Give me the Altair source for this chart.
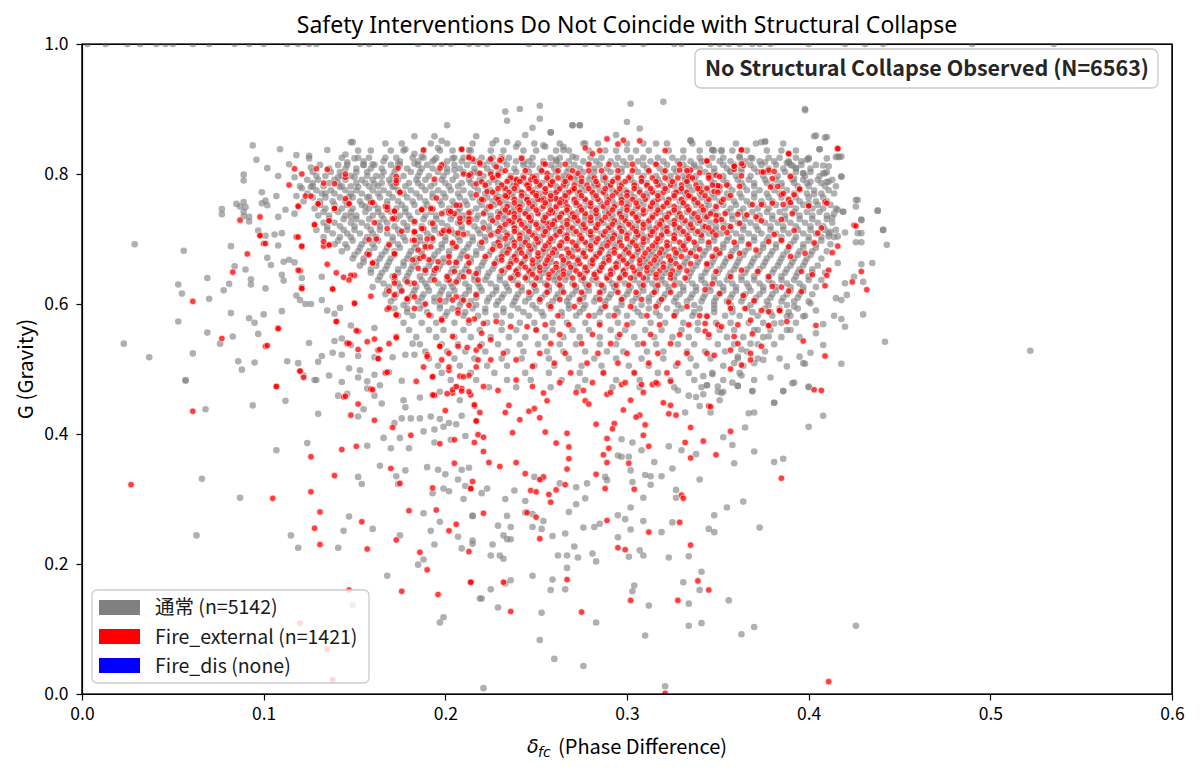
import altair as alt
import pandas as pd

FONT = "Noto Sans CJK JP"
TITLE_FONT = "Noto Sans"
MATH_FONT = "DejaVu Sans"
TITLE = "Safety Interventions Do Not Coincide with Structural Collapse"
NOTE = "No Structural Collapse Observed (N=6563)"
X_TITLE_SYMBOL = "δ"
X_TITLE_SUB = "fc"
X_TITLE_REST = "(Phase Difference)"
Y_TITLE = "G (Gravity)"
LABELS = ["通常 (n=5142)", "Fire_external (n=1421)", "Fire_dis (none)"]
COLORS = ["#808080", "#ff0000", "#0000ff"]
x_ticks = [0.0, 0.1, 0.2, 0.3, 0.4, 0.5, 0.6]
y_ticks = [0.0, 0.2, 0.4, 0.6, 0.8, 1.0]

# ---------------- gray points (通常) ----------------
gray_ceiling = [(.003,1.0),(.013,1.0),(.025,1.0),(.032,1.0),(.041,1.0),(.046,1.0),(.050,1.0),(.061,1.0),(.070,1.0),
    (.084,1.0),(.092,1.0),(.100,1.0),(.113,1.0),(.119,1.0),(.125,1.0),(.129,1.0),(.153,1.0),(.158,1.0),(.167,1.0),
    (.185,1.0),(.194,1.0),(.198,1.0),(.203,1.0),(.213,1.0),(.218,1.0),(.223,1.0),(.246,1.0),(.255,1.0),(.260,1.0),
    (.267,1.0),(.277,1.0),(.284,1.0),(.290,1.0),(.298,1.0),(.309,1.0),(.326,1.0),(.330,1.0),(.346,1.0),(.351,1.0),
    (.356,1.0),(.362,1.0),(.369,1.0),(.373,1.0),(.379,1.0),(.400,1.0),(.420,1.0),(.431,1.0),(.441,1.0),(.490,1.0),(.535,1.0)]

gray_left_mid = [(.029,.692),(.056,.682),(.077,.738),(.053,.630),(.055,.616),(.069,.640),(.070,.608),(.053,.573),
    (.069,.556),(.023,.539),(.037,.518),(.061,.524),(.057,.483),(.076,.539),(.083,.550),(.082,.586),(.086,.512),
    (.088,.499),(.095,.510),(.097,.554),(.100,.584),(.092,.578),(.095,.571),(.078,.621),(.081,.631),(.084,.658),
    (.090,.653),(.093,.638),(.093,.630),(.101,.624),(.082,.689),(.087,.750),(.090,.749),(.089,.735),(.092,.727),
    (.099,.755),(.102,.752),(.097,.713),(.101,.705),(.106,.707),(.110,.709),(.102,.671),(.104,.660),(.108,.690),
    (.111,.665),(.114,.668),(.117,.664),(.110,.645),(.111,.636),(.121,.640),(.121,.626),(.118,.613),(.120,.606),
    (.123,.600),(.126,.600),(.110,.589),(.132,.606),(.132,.642),(.135,.590),(.139,.585),(.142,.594),(.125,.540),
    (.113,.512),(.119,.509),(.122,.490),(.132,.520),(.130,.511),(.129,.483),(.136,.490),(.138,.525),(.143,.522),
    (.139,.543),(.143,.547),(.148,.567),(.148,.537),(.152,.520),(.153,.498),(.147,.501),(.152,.487),(.157,.481),
    (.161,.491),(.161,.563),(.169,.495),(.171,.518),(.161,.518),(.178,.522),(.182,.539),(.176,.482),(.183,.522)]

gray_upper_left = [(.094,.844),(.096,.822),(.089,.799),(.089,.790),(.077,.746),(.085,.754),(.089,.757),(.089,.742),
    (.092,.734),(.099,.772),(.101,.759),(.102,.809),(.108,.797),(.109,.838),(.107,.766),(.108,.734),(.114,.815),
    (.112,.745),(.117,.739),(.118,.829),(.125,.824),(.125,.828),(.126,.810),(.117,.795),(.121,.778),(.126,.780),
    (.118,.766),(.132,.770),(.135,.837),(.145,.830),(.148,.849),(.149,.849),(.146,.818),(.150,.824),(.155,.814),
    (.160,.815),(.142,.780),(.141,.795),(.150,.795),(.152,.780),(.147,.765),(.139,.745),(.148,.734),(.158,.765),
    (.156,.750),(.161,.785),(.165,.796),(.171,.780),(.174,.816),(.178,.838),(.183,.858),(.183,.831),(.194,.858),
    (.198,.851),(.201,.875),(.217,.858),(.228,.852),(.233,.896),(.234,.882),(.241,.900),(.244,.860),(.248,.871),
    (.252,.905),(.252,.885),(.258,.864),(.270,.875),(.274,.875),(.265,.842),(.255,.842),(.234,.849),(.239,.842),
    (.213,.837),(.204,.824),(.187,.827),(.196,.840),(.215,.820),(.225,.823),(.231,.826),(.243,.818),(.261,.822),
    (.270,.827),(.183,.816),(.194,.822),(.205,.806),(.218,.801)]

gray_top_mid = [(.302,.908),(.320,.911),(.398,.900),(.300,.880),(.270,.875),(.274,.875),(.258,.864),(.307,.870),
    (.294,.860),(.335,.852),(.347,.837),(.352,.837),(.376,.850),(.404,.859),(.410,.857),(.316,.847),(.300,.837),
    (.254,.844),(.265,.837),(.276,.847)]

gray_right = [(.398,.898),(.374,.849),(.403,.858),(.409,.856),(.406,.838),(.410,.824),(.399,.822),(.415,.826),
    (.417,.826),(.418,.796),(.411,.812),(.409,.801),(.410,.788),(.347,.837),(.352,.835),(.388,.817),(.393,.809),
    (.397,.801),(.401,.788),(.426,.760),(.426,.750),(.438,.743),(.441,.714),(.443,.691),(.429,.730),(.427,.709),
    (.420,.710),(.426,.695),(.429,.695),(.435,.663),(.429,.661),(.430,.634),(.425,.642),(.420,.632),(.421,.614),
    (.416,.745),(.419,.742),(.413,.733),(.411,.704),(.416,.704),(.416,.663),(.418,.606),(.415,.609),(.414,.582),
    (.418,.577),(.420,.565),(.430,.584),(.442,.542),(.408,.537),(.418,.508),(.401,.525),(.398,.508),(.400,.473),
    (.392,.479),(.386,.466),(.381,.448),(.379,.487),(.370,.483),(.369,.466),(.363,.490),(.358,.479),(.361,.474),
    (.350,.473),(.344,.475),(.342,.489),(.347,.492),(.353,.465),(.351,.452),(.342,.461),(.408,.569),(.404,.555),
    (.395,.549),(.388,.560),(.388,.504),(.384,.516),(.395,.519),(.397,.509),(.375,.514),(.370,.509),(.361,.519),
    (.359,.509),(.363,.530),(.404,.590),(.401,.601),(.397,.581),(.392,.596),(.388,.581),(.381,.570),(.378,.550),
    (.372,.560),(.368,.539),(.335,.851),(.376,.850),(.406,.838),(.416,.827),(.418,.827),(.400,.823),(.408,.813),
    (.408,.801),(.411,.788),(.418,.796),(.427,.760),(.438,.744),(.441,.714),(.429,.729),(.429,.709),(.419,.742),
    (.414,.739),(.412,.711),(.403,.769),(.400,.755),(.391,.813),(.389,.818),(.392,.793),(.397,.801),(.376,.818),
    (.369,.824),(.362,.827),(.357,.804),(.341,.819),(.337,.811),(.333,.791),(.329,.773),(.522,.528)]

gray_low_left = [(.068,.438),(.094,.444),(.112,.451),(.130,.431),(.107,.375),(.124,.386),(.066,.331),(.087,.302),
    (.063,.244),(.115,.244),(.119,.225),(.141,.225),(.147,.273),(.144,.251),(.160,.254),(.152,.334),(.154,.323),
    (.157,.382),(.164,.351),(.173,.335),(.178,.344),(.174,.323),(.175,.244),(.168,.182),(.188,.278),(.192,.251),
    (.194,.230),(.188,.207),(.185,.199),(.199,.118),(.197,.110),(.197,.265),(.207,.242),(.209,.224),(.215,.231),
    (.215,.274),(.219,.147),(.190,.349),(.196,.345),(.200,.338),(.209,.345),(.213,.348),(.207,.330),(.211,.320),
    (.199,.316),(.202,.312),(.210,.300),(.193,.309),(.170,.378),(.180,.378),(.194,.387),(.203,.391),(.166,.394),
    (.175,.394),(.188,.404),(.194,.407),(.199,.411),(.172,.417),(.176,.424),(.181,.424),(.186,.424),(.192,.427),
    (.197,.423),(.202,.417),(.206,.415),(.211,.397),(.209,.428),(.152,.427),(.155,.438),(.161,.459),(.165,.447),
    (.177,.452),(.178,.441),(.186,.456),(.197,.465),(.208,.452),(.141,.459),(.146,.462),(.157,.470),(.164,.475),
    (.057,.482),(.128,.483),(.143,.480),(.149,.137)]

gray_low_mid = [(.221,.009),(.321,.012),(.260,.054),(.276,.043),(.252,.083),(.310,.090),(.283,.110),(.334,.105),
    (.341,.109),(.363,.092),(.370,.103),(.426,.105),(.356,.144),(.334,.139),(.312,.136),(.253,.125),(.229,.133),
    (.220,.147),(.225,.161),(.258,.160),(.266,.161),(.248,.182),(.259,.176),(.236,.175),(.233,.170),(.267,.194),
    (.303,.158),(.304,.167),(.331,.172),(.340,.160),(.341,.188),(.323,.210),(.334,.212),(.301,.211),(.307,.221),
    (.309,.213),(.281,.216),(.283,.204),(.273,.210),(.262,.213),(.267,.213),(.271,.227),(.259,.243),(.266,.247),
    (.253,.254),(.248,.257),(.254,.266),(.236,.257),(.229,.259),(.226,.230),(.225,.213),(.230,.213),(.232,.208),
    (.215,.236),(.215,.274),(.232,.244),(.234,.238),(.236,.238),(.234,.274),(.244,.279),(.268,.280),(.276,.256),
    (.282,.257),(.285,.262),(.295,.275),(.299,.269),(.295,.241),(.302,.287),(.302,.253),(.309,.266),(.319,.249),
    (.325,.264),(.345,.254),(.348,.249),(.348,.275),(.355,.287),(.364,.296),(.373,.256),(.327,.302),(.327,.314),
    (.309,.302),(.313,.322),(.313,.335),(.319,.335),(.310,.337),(.325,.347),(.340,.330),(.315,.357),(.303,.326),
    (.302,.344),(.301,.365),(.297,.365),(.295,.367),(.308,.375),(.303,.387),(.297,.392),(.288,.334),(.289,.329),
    (.278,.324),(.272,.318),(.277,.301),(.272,.292),(.263,.324),(.253,.330),(.249,.334),(.238,.313),(.233,.300),
    (.244,.297),(.248,.277),(.220,.309),(.223,.316),(.323,.381),(.330,.375),(.338,.369),(.353,.395),(.358,.383),
    (.359,.355),(.370,.373),(.365,.410),(.367,.432),(.370,.433),(.381,.448),(.386,.466),(.391,.478),(.400,.472),
    (.400,.411),(.408,.428),(.381,.357),(.386,.362),(.361,.474),(.369,.466),(.350,.465),(.344,.475),(.340,.443),
    (.346,.433),(.352,.463),(.332,.433),(.338,.457),(.334,.459),(.328,.467)]

# dense body of the gray cloud, one row per G level
gray_body_rows = [
    (.847, [.167,.176,.192,.201,.215,.226,.240,.249,.263,.277,.284,.300,.309,.322,.336,.345,.360,.371,.386]),
    (.836, [.152,.159,.170,.177,.188,.197,.204,.214,.225,.232,.243,.250,.261,.268,.279,.288,.294,.305,.312,.323,.331,.340,.348,.358,.366,.377,.385,.393]),
    (.825, [.143,.152,.158,.167,.173,.182,.188,.195,.205,.210,.220,.226,.235,.242,.248,.258,.263,.272,.280,.286,.295,.302,.309,.317,.325,.331,.340,.347,.353,.362,.368,.378,.384,.393,.400]),
    (.814, [.131,.141,.146,.155,.161,.170,.175,.185,.190,.199,.205,.212,.221,.227,.234,.243,.248,.258,.263,.271,.279,.285,.294,.300,.309,.316,.322,.331,.337,.345,.353,.359,.368,.374,.382,.390,.396,.404]),
    (.803, [.127,.137,.142,.151,.157,.166,.172,.181,.186,.196,.201,.210,.216,.225,.231,.239,.246,.253,.261,.267,.276,.282,.291,.297,.306,.312,.320,.327,.334,.343,.348,.357,.363,.372,.378,.387,.393,.401,.410]),
    (.791, [.124,.130,.139,.145,.154,.160,.169,.174,.184,.189,.198,.204,.213,.219,.227,.235,.241,.250,.256,.265,.271,.279,.287,.293,.302,.308,.317,.323,.332,.337,.346,.353,.361,.367,.376,.382,.391,.397,.405,.413]),
    (.781, [.120,.127,.133,.143,.148,.158,.163,.172,.178,.187,.192,.202,.207,.216,.222,.231,.237,.246,.251,.261,.266,.275,.282,.290,.296,.305,.311,.320,.326,.334,.341,.349,.356,.364,.370,.380,.385,.394,.400,.409,.415]),
    (.770, [.124,.134,.139,.148,.154,.163,.169,.177,.184,.193,.199,.207,.214,.222,.228,.237,.243,.252,.258,.266,.273,.281,.288,.296,.302,.311,.317,.326,.332,.340,.347,.355,.362,.370,.377,.384,.392,.399,.407,.414]),
    (.758, [.122,.131,.138,.145,.153,.159,.168,.174,.182,.189,.197,.204,.211,.219,.226,.233,.241,.248,.256,.262,.271,.277,.285,.292,.300,.307,.315,.322,.329,.337,.344,.351,.359,.366,.374,.380,.389,.395,.404,.410]),
    (.747, [.128,.134,.143,.149,.158,.163,.173,.178,.188,.193,.202,.208,.217,.223,.232,.238,.246,.253,.261,.268,.276,.283,.290,.298,.305,.313,.319,.328,.334,.343,.349,.357,.364,.372,.378,.387,.393,.402,.408,.415]),
    (.736, [.130,.136,.145,.151,.160,.165,.175,.180,.189,.195,.204,.210,.218,.225,.233,.240,.247,.255,.262,.269,.277,.284,.292,.299,.306,.314,.321,.328,.336,.343,.350,.358,.365,.373,.380,.387,.395,.402,.410]),
    (.725, [.133,.139,.148,.154,.163,.168,.177,.183,.192,.198,.207,.213,.221,.228,.236,.243,.250,.258,.265,.272,.280,.287,.295,.302,.309,.317,.324,.331,.339,.346,.353,.361,.368,.376,.383,.390,.398,.405,.413]),
    (.714, [.129,.135,.144,.150,.159,.164,.174,.179,.188,.194,.203,.209,.218,.224,.232,.239,.246,.254,.261,.268,.276,.283,.291,.298,.305,.313,.320,.327,.335,.342,.349,.357,.364,.372,.379,.386,.394,.401,.409,.415]),
    (.703, [.133,.142,.148,.157,.162,.171,.177,.186,.192,.200,.207,.215,.222,.230,.236,.245,.251,.260,.266,.275,.281,.290,.296,.305,.311,.319,.326,.334,.341,.348,.356,.363,.370,.378,.385,.393,.400,.407,.414]),
    (.692, [.139,.145,.154,.160,.169,.174,.184,.189,.198,.204,.213,.219,.227,.234,.242,.249,.257,.263,.272,.278,.287,.293,.302,.308,.316,.323,.331,.338,.345,.353,.360,.367,.375,.382,.390,.397,.404,.412]),
    (.681, [.143,.152,.158,.167,.172,.181,.187,.196,.202,.210,.217,.225,.232,.240,.246,.255,.261,.270,.276,.285,.291,.300,.306,.314,.321,.329,.336,.343,.351,.358,.365,.373,.380,.388,.395,.402,.410]),
    (.670, [.149,.155,.164,.170,.179,.184,.193,.199,.208,.214,.222,.229,.237,.244,.252,.258,.267,.273,.282,.288,.297,.303,.311,.318,.326,.333,.340,.348,.355,.362,.370,.377,.385,.392,.399,.407]),
    (.659, [.153,.162,.168,.177,.182,.191,.197,.206,.212,.220,.227,.235,.242,.250,.256,.265,.271,.280,.286,.295,.301,.309,.316,.324,.331,.338,.346,.353,.360,.368,.375,.383,.390,.397,.405]),
    (.648, [.159,.165,.174,.180,.189,.194,.203,.209,.218,.224,.232,.239,.247,.254,.262,.268,.277,.283,.292,.298,.306,.313,.321,.328,.335,.343,.350,.357,.365,.372,.380,.387,.394,.402,.409]),
    (.637, [.163,.172,.178,.187,.192,.201,.207,.216,.222,.230,.237,.245,.252,.260,.266,.275,.281,.290,.296,.304,.311,.319,.326,.333,.341,.348,.355,.363,.370,.378,.385,.392,.400,.407]),
    (.626, [.160,.169,.175,.184,.190,.199,.204,.213,.219,.228,.234,.242,.249,.257,.264,.272,.278,.287,.293,.302,.308,.316,.323,.331,.338,.345,.353,.360,.367,.375,.382,.390,.397,.404]),
    (.615, [.167,.173,.182,.188,.197,.202,.211,.217,.226,.232,.240,.247,.255,.262,.270,.276,.285,.291,.300,.306,.314,.321,.329,.336,.343,.351,.358,.365,.373,.380,.388,.395,.402]),
    (.604, [.170,.179,.185,.194,.200,.209,.214,.223,.229,.238,.244,.252,.259,.267,.274,.282,.288,.297,.303,.312,.318,.326,.333,.341,.348,.355,.363,.370,.377,.385,.392,.400]),
    (.593, [.172,.179,.186,.197,.204,.215,.222,.232,.240,.250,.258,.268,.276,.286,.294,.304,.312,.322,.330,.340,.348,.358,.366,.376,.384,.394]),
    (.582, [.174,.182,.192,.200,.210,.218,.228,.236,.246,.254,.264,.272,.282,.290,.300,.308,.318,.326,.336,.344,.354,.362,.372,.380,.390,.398]),
    (.571, [.177,.187,.195,.205,.213,.223,.231,.241,.249,.259,.267,.277,.285,.295,.303,.313,.321,.331,.339,.349,.357,.367,.375,.385,.393]),
    (.560, [.180,.191,.199,.210,.219,.231,.239,.250,.259,.270,.279,.291,.299,.310,.319,.330,.339,.351,.359,.370,.379,.390]),
    (.549, [.184,.195,.205,.214,.225,.235,.244,.255,.265,.274,.285,.295,.304,.315,.325,.334,.345,.355,.364,.375,.385]),
    (.538, [.186,.198,.207,.220,.229,.241,.251,.263,.272,.285,.294,.306,.316,.328,.337,.350,.359,.372,.381]),
    (.527, [.189,.201,.211,.222,.234,.243,.256,.265,.277,.289,.298,.311,.320,.333,.343,.354,.366,.376]),
    (.516, [.191,.205,.216,.231,.242,.257,.268,.282,.294,.308,.320,.335,.346,.361,.372]),
    (.505, [.196,.208,.223,.234,.249,.260,.275,.286,.301,.312,.327,.338,.353,.364]),
    (.494, [.198,.214,.227,.244,.257,.274,.287,.304,.317,.334,.347,.362]),
    (.483, [.203,.217,.234,.247,.264,.277,.294,.307,.324,.337,.353]),
    (.472, [.206,.224,.239,.258,.273,.292,.307,.326,.341]),
]

# in-between rows of the solid part of the gray cloud
gray_body_rows_mid = [
    (.8195, [.155,.166,.175,.185,.193,.201,.209,.217,.224,.232,.239,.246,.254,.261,.268,.276,.283,.291,.298,.306,.313,.320,.328,.335,.343,.351,.357,.365,.373,.381,.389,.396]),
    (.8085, [.136,.145,.151,.159,.165,.173,.179,.187,.193,.201,.208,.216,.223,.230,.238,.245,.252,.260,.268,.274,.282,.289,.297,.304,.311,.318,.326,.333,.340,.348,.355,.363,.370,.378,.386,.393,.401]),
    (.797, [.129,.134,.143,.148,.157,.162,.171,.177,.185,.191,.199,.206,.214,.221,.229,.236,.243,.250,.258,.265,.272,.280,.287,.295,.302,.309,.316,.324,.331,.338,.346,.353,.360,.368,.375,.383,.390,.398,.406]),
    (.786, [.127,.136,.141,.151,.156,.165,.170,.180,.185,.194,.200,.209,.214,.224,.229,.238,.244,.253,.259,.267,.274,.282,.289,.296,.304,.311,.318,.326,.333,.340,.348,.355,.363,.370,.377,.385,.392,.399,.407]),
    (.775, [.129,.137,.145,.151,.160,.166,.174,.181,.189,.196,.203,.210,.218,.225,.233,.240,.248,.255,.262,.270,.277,.285,.292,.299,.307,.314,.322,.329,.336,.344,.351,.358,.366,.373,.381,.388,.395,.403,.411]),
    (.764, [.127,.134,.142,.149,.157,.164,.171,.179,.186,.193,.200,.208,.215,.223,.230,.237,.245,.252,.260,.267,.274,.282,.289,.297,.304,.311,.319,.326,.333,.341,.348,.356,.363,.370,.378,.385,.393,.400,.408]),
    (.7525, [.131,.139,.146,.154,.161,.168,.176,.183,.190,.198,.205,.212,.220,.227,.235,.242,.249,.257,.264,.272,.279,.286,.294,.301,.309,.316,.323,.331,.338,.345,.353,.360,.368,.375,.382,.390,.397,.405,.412]),
    (.7415, [.133,.141,.148,.156,.163,.170,.178,.185,.192,.200,.207,.214,.222,.229,.237,.244,.251,.259,.266,.273,.281,.288,.296,.303,.310,.318,.325,.333,.340,.347,.355,.362,.369,.377,.384,.392,.399,.406]),
    (.7305, [.136,.144,.151,.158,.166,.173,.181,.188,.195,.203,.210,.217,.225,.232,.240,.247,.254,.262,.269,.277,.284,.291,.299,.306,.313,.321,.328,.336,.343,.350,.358,.365,.372,.380,.387,.395,.402,.410]),
    (.7195, [.135,.142,.150,.157,.164,.172,.179,.187,.194,.201,.209,.216,.224,.231,.238,.246,.253,.260,.268,.275,.283,.290,.297,.305,.312,.320,.327,.334,.342,.349,.356,.364,.371,.379,.386,.393,.401,.408]),
    (.7085, [.138,.146,.153,.160,.168,.175,.183,.190,.197,.205,.212,.219,.227,.234,.242,.249,.256,.264,.271,.279,.286,.293,.301,.308,.315,.323,.330,.338,.345,.352,.360,.367,.374,.382,.389,.397,.404,.411]),
    (.6975, [.141,.149,.156,.163,.171,.178,.186,.193,.200,.208,.215,.222,.230,.237,.245,.252,.259,.267,.274,.281,.289,.296,.304,.311,.318,.326,.333,.341,.348,.355,.363,.370,.377,.385,.392,.400,.407]),
    (.6865, [.146,.153,.161,.168,.175,.183,.190,.198,.205,.212,.220,.227,.234,.242,.249,.257,.264,.271,.279,.286,.294,.301,.308,.316,.323,.330,.338,.345,.353,.360,.367,.375,.382,.389,.397,.404]),
    (.6755, [.150,.157,.165,.172,.180,.187,.194,.202,.209,.217,.224,.231,.239,.246,.253,.261,.268,.276,.283,.290,.298,.305,.313,.320,.327,.335,.342,.349,.357,.364,.372,.379,.386,.394,.401]),
    (.6645, [.155,.162,.169,.177,.184,.192,.199,.206,.214,.221,.228,.236,.243,.251,.258,.265,.273,.280,.288,.295,.302,.310,.317,.324,.332,.339,.347,.354,.361,.369,.376,.384,.391,.398]),
    (.6535, [.159,.167,.174,.181,.189,.196,.204,.211,.218,.226,.233,.240,.248,.255,.263,.270,.277,.285,.292,.299,.307,.314,.322,.329,.336,.344,.351,.359,.366,.373,.381,.388,.395,.402]),
    (.6425, [.164,.171,.179,.186,.193,.201,.208,.216,.223,.230,.238,.245,.252,.260,.267,.275,.282,.289,.297,.304,.311,.319,.326,.334,.341,.348,.356,.363,.370,.378,.385,.393,.400]),
    (.6315, [.166,.174,.181,.189,.196,.203,.211,.218,.225,.233,.240,.248,.255,.262,.270,.277,.284,.292,.299,.307,.314,.321,.329,.336,.343,.351,.358,.366,.373,.380,.388,.395]),
    (.6205, [.168,.176,.183,.191,.198,.205,.213,.220,.228,.235,.242,.250,.257,.264,.272,.279,.287,.294,.301,.309,.316,.323,.331,.338,.346,.353,.360,.368,.375,.382,.390,.397]),
    (.6095, [.172,.180,.187,.194,.202,.209,.217,.224,.231,.239,.246,.253,.261,.268,.276,.283,.290,.298,.305,.312,.320,.327,.335,.342,.349,.357,.364,.371,.379,.386,.394]),
    (.5985, [.177,.188,.197,.208,.217,.228,.237,.248,.257,.268,.277,.288,.297,.308,.317,.328,.337,.348,.357,.368,.378,.388]),
    (.5875, [.179,.190,.201,.211,.222,.232,.243,.253,.264,.274,.285,.295,.306,.316,.327,.337,.348,.358,.369,.379,.389]),
]

# ---------------- red points (Fire_external) ----------------
red_low_left = [(.061,.435),(.107,.473),(.027,.322),(.105,.301),(.126,.311),(.126,.365),(.139,.336),(.143,.376),
    (.151,.381),(.148,.429),(.152,.446),(.161,.421),(.159,.469),(.144,.457),(.131,.280),(.128,.255),(.131,.230),
    (.154,.265),(.157,.223),(.170,.347),(.175,.324),(.173,.237),(.180,.282),(.186,.218),(.190,.191),(.176,.158),
    (.196,.153),(.214,.172),(.195,.283),(.202,.251),(.206,.261),(.213,.219),(.193,.317),(.214,.316),(.215,.327),
    (.205,.355),(.197,.385),(.205,.391),(.181,.398),(.171,.410),(.200,.436),(.194,.459),(.204,.463),(.209,.470),
    (.216,.443),(.218,.399),(.217,.420),(.147,.160),(.120,.109),(.135,.069),(.138,.022)]

red_low_mid = [(.407,.467),(.385,.332),(.357,.404),(.349,.368),(.342,.389),(.335,.410),(.335,.363),(.332,.387),
    (.330,.306),(.331,.301),(.329,.264),(.335,.229),(.339,.174),(.345,.160),(.328,.144),(.302,.144),(.275,.126),
    (.236,.127),(.267,.176),(.232,.172),(.214,.172),(.252,.239),(.295,.225),(.299,.222),(.312,.249),(.289,.267),
    (.288,.316),(.304,.315),(.301,.355),(.289,.356),(.283,.338),(.312,.381),(.287,.368),(.290,.378),(.289,.393),
    (.267,.346),(.268,.362),(.268,.380),(.267,.401),(.266,.322),(.261,.314),(.257,.307),(.258,.295),(.254,.334),
    (.252,.330),(.250,.272),(.245,.279),(.244,.339),(.247,.313),(.250,.311),(.239,.356),(.230,.350),(.224,.356),
    (.221,.373),(.221,.278),(.214,.316),(.261,.386),(.255,.403),(.237,.402),(.241,.422),(.235,.444),(.233,.433),
    (.219,.433),(.216,.387),(.221,.395),(.217,.420),(.216,.445),(.256,.451),(.252,.425),(.249,.439),(.246,.435),
    (.277,.451),(.279,.446),(.276,.467),(.283,.415),(.293,.416),(.292,.408),(.289,.461),(.298,.437),(.302,.452),
    (.307,.429),(.305,.426),(.309,.398),(.310,.414),(.320,.448),(.324,.444),(.323,.431),(.327,.429),(.345,.443),
    (.314,.476),(.317,.477),(.308,.476),(.297,.476),(.324,.481),(.321,.001),(.411,.019)]

red_mid_left = [(.087,.729),(.098,.734),(.091,.677),(.083,.649),(.061,.604),(.077,.547),(.101,.535),(.108,.563),
    (.120,.651),(.121,.624),(.121,.688),(.118,.703),(.100,.693),(.098,.706),(.107,.473),(.120,.496),(.122,.487),
    (.135,.661),(.138,.623),(.140,.573),(.144,.641),(.150,.644),(.150,.601),(.152,.558),(.152,.530),(.146,.539),
    (.157,.542),(.161,.546),(.163,.529),(.163,.516),(.169,.539),(.173,.550),(.167,.494),(.168,.592),(.173,.584),
    (.159,.612),(.157,.677),(.160,.663),(.136,.690),(.133,.689),(.136,.728),(.128,.722),(.119,.751),(.130,.754),
    (.139,.747),(.147,.755),(.158,.699),(.161,.725),(.168,.745),(.172,.742),(.172,.732),(.183,.727),(.188,.716),
    (.183,.711),(.182,.698),(.176,.712),(.193,.746),(.193,.701),(.198,.709),(.202,.714),(.207,.709),(.206,.688),
    (.213,.740),(.214,.730),(.208,.752),(.202,.740),(.189,.688),(.185,.683),(.172,.678),(.182,.668),(.186,.670),
    (.191,.668),(.196,.665),(.202,.664),(.206,.664),(.213,.663),(.189,.652),(.194,.652),(.205,.650),(.213,.650),
    (.172,.640),(.179,.634),(.183,.632),(.194,.637),(.202,.637),(.206,.634),(.218,.637),(.172,.614),(.179,.607),
    (.183,.611),(.189,.600),(.197,.606),(.206,.611),(.210,.606),(.217,.614),(.183,.593),(.198,.577),(.191,.583),
    (.207,.591),(.213,.598),(.204,.550),(.207,.535),(.197,.535),(.190,.522),(.193,.488),(.198,.514),(.202,.498),
    (.208,.489),(.213,.490),(.184,.481),(.204,.468),(.209,.466),(.214,.460),(.194,.460),(.220,.555),(.217,.529),
    (.218,.514),(.216,.577)]

red_upper_left = [(.114,.783),(.117,.808),(.121,.800),(.119,.750),(.123,.766),(.126,.766),(.129,.808),(.130,.754),
    (.133,.786),(.135,.807),(.139,.785),(.139,.747),(.145,.795),(.145,.762),(.147,.754),(.159,.756),(.167,.750),
    (.174,.809),(.173,.796),(.173,.786),(.175,.771),(.188,.837),(.187,.745),(.194,.792),(.195,.763),(.198,.814),
    (.202,.743),(.205,.739),(.209,.838),(.210,.800),(.213,.827),(.215,.823),(.214,.800),(.217,.785),(.217,.768),
    (.219,.815),(.220,.788),(.225,.823),(.225,.800),(.228,.811),(.229,.800),(.231,.823),(.223,.773),(.224,.750),
    (.228,.763),(.233,.778),(.234,.765),(.239,.792),(.242,.824),(.235,.741),(.240,.749),(.246,.783),(.248,.796),
    (.254,.816),(.256,.801),(.258,.786),(.250,.770),(.254,.762),(.261,.762),(.259,.741),(.266,.757),(.268,.796),
    (.270,.776),(.273,.801),(.272,.734),(.256,.724),(.246,.734),(.237,.726),(.213,.730),(.208,.726),(.193,.724)]

red_left_body = [(.098,.705),(.101,.693),(.119,.703),(.121,.689),(.128,.722),(.133,.696),(.136,.691),(.136,.728),
    (.140,.648),(.119,.652),(.121,.624),(.138,.623),(.148,.644),(.147,.637),(.150,.601),(.140,.573),(.151,.559),
    (.108,.562),(.102,.536),(.146,.540),(.164,.530),(.173,.548),(.163,.516),(.147,.539),(.120,.497),(.160,.468),
    (.168,.495),(.145,.458),(.145,.800),(.160,.756),(.168,.749),(.172,.743),(.173,.790),(.175,.772),(.158,.676),
    (.160,.663),(.162,.700),(.169,.691),(.172,.677),(.172,.643),(.169,.620),(.172,.632),(.176,.620),(.173,.583),
    (.179,.608),(.169,.594),(.168,.716),(.171,.731),(.183,.711),(.187,.716),(.183,.698),(.190,.700),(.188,.673),
    (.185,.655),(.192,.688),(.199,.713),(.197,.809),(.209,.838),(.213,.825),(.219,.817),(.230,.821),(.187,.745),
    (.192,.747),(.198,.739),(.203,.742),(.206,.752),(.213,.798),(.219,.801),(.229,.798),(.239,.791),(.247,.791),
    (.253,.760),(.245,.760),(.234,.765),(.221,.760),(.213,.731),(.208,.732),(.202,.712),(.204,.694),(.210,.707),
    (.213,.726),(.212,.673),(.202,.673),(.195,.655),(.201,.642),(.210,.642),(.217,.647),(.204,.606),(.198,.575),
    (.207,.586),(.213,.575),(.221,.570),(.228,.573),(.236,.565),(.245,.565),(.250,.560),(.225,.545),(.219,.535),
    (.212,.533),(.202,.524),(.197,.535),(.190,.519),(.188,.503),(.193,.488),(.202,.503),(.210,.488),(.217,.503),
    (.225,.514),(.232,.524),(.239,.514),(.248,.504),(.252,.524),(.206,.473),(.213,.465),(.221,.473),(.229,.467),
    (.239,.483),(.248,.473),(.254,.463),(.193,.460),(.201,.462)]

red_right = [(.363,.837),(.389,.832),(.416,.839),(.425,.721),(.429,.650),(.432,.622),(.424,.634),(.409,.757),
    (.400,.751),(.407,.717),(.405,.709),(.403,.694),(.416,.689),(.413,.679),(.411,.652),(.410,.644),(.409,.628),
    (.398,.678),(.396,.650),(.402,.645),(.404,.567),(.397,.543),(.409,.520),(.403,.468),(.388,.573),(.396,.619),
    (.389,.620),(.385,.626),(.378,.566),(.384,.590),(.374,.535),(.369,.554),(.363,.506),(.357,.500),(.346,.442),
    (.395,.776),(.392,.768),(.389,.761),(.385,.768),(.383,.781),(.380,.793),(.378,.806),(.374,.803),(.363,.797),
    (.362,.781),(.364,.813),(.359,.807),(.344,.820),(.340,.802),(.345,.798),(.349,.798),(.351,.781),(.344,.778),
    (.391,.739),(.390,.756),(.386,.753),(.380,.755),(.374,.753),(.369,.753),(.366,.737),(.371,.734),(.374,.728),
    (.361,.738),(.362,.724),(.357,.719),(.352,.730),(.349,.736),(.344,.734),(.343,.719),(.347,.711),(.355,.710),
    (.359,.695),(.367,.692),(.371,.683),(.378,.696),(.381,.707),(.385,.698),(.389,.688),(.390,.673),(.392,.713),
    (.385,.730),(.372,.650),(.378,.642),(.380,.627),(.363,.652),(.357,.642),(.349,.650),(.347,.673),(.351,.678),
    (.357,.673),(.362,.678),(.344,.660),(.347,.631),(.343,.622),(.351,.616),(.356,.603),(.357,.593),(.364,.613),
    (.365,.593),(.370,.605),(.374,.590),(.378,.588),(.384,.590),(.344,.581),(.343,.570),(.350,.568),(.352,.565),
    (.361,.568),(.368,.575),(.359,.550),(.361,.539),(.343,.558),(.344,.524),(.348,.521),(.357,.529),(.368,.524),
    (.368,.514),(.378,.567),(.400,.751),(.410,.755),(.426,.720),(.395,.777),(.390,.796),(.386,.770),(.381,.804),
    (.375,.803),(.359,.812),(.351,.796),(.350,.782),(.335,.806),(.334,.796),(.329,.806),(.379,.780),(.357,.767),
    (.352,.757),(.348,.773),(.340,.778),(.335,.765)]

red_top = [(.289,.854),(.307,.851),(.298,.852),(.295,.846),(.277,.840),(.281,.831),(.285,.836),(.321,.836),
    (.363,.837),(.389,.831),(.416,.839),(.344,.820),(.359,.812),(.363,.816)]

# dense body of the red cloud, one row per G level
red_body_rows = [
    (.815, [.255,.266,.279,.290,.303,.316,.329]),
    (.805, [.233,.244,.253,.262,.270,.279,.286,.295,.303,.312,.321,.333]),
    (.794, [.226,.236,.243,.249,.256,.262,.269,.275,.282,.288,.295,.301,.308,.314,.321,.328,.336,.345]),
    (.783, [.222,.231,.239,.245,.252,.258,.265,.271,.278,.284,.291,.297,.304,.311,.317,.324,.330,.338,.347,.355]),
    (.772, [.226,.235,.242,.248,.255,.261,.268,.274,.281,.287,.294,.300,.307,.314,.320,.327,.333,.341,.350]),
    (.761, [.220,.229,.238,.245,.251,.258,.264,.271,.277,.284,.290,.297,.303,.310,.317,.323,.330,.337,.345,.353]),
    (.750, [.225,.234,.241,.248,.254,.261,.267,.274,.280,.287,.293,.300,.306,.313,.320,.326,.333,.341,.349]),
    (.739, [.221,.230,.238,.244,.251,.257,.264,.270,.277,.283,.290,.296,.303,.309,.316,.323,.329,.337,.346,.354]),
    (.728, [.226,.235,.241,.247,.254,.260,.267,.273,.280,.286,.293,.299,.306,.312,.319,.326,.332,.340,.349]),
    (.717, [.221,.230,.238,.244,.251,.257,.264,.270,.277,.283,.290,.296,.303,.309,.316,.322,.329,.336,.345,.353]),
    (.706, [.225,.234,.241,.248,.254,.261,.267,.274,.280,.287,.293,.300,.306,.313,.319,.326,.333,.341,.349]),
    (.695, [.220,.229,.238,.244,.251,.257,.264,.270,.277,.283,.290,.296,.303,.309,.316,.322,.329,.337,.345]),
    (.684, [.226,.235,.241,.247,.254,.260,.267,.273,.280,.286,.293,.299,.306,.312,.319,.326,.332,.340,.349]),
    (.673, [.222,.231,.238,.244,.251,.257,.264,.270,.277,.283,.290,.296,.303,.309,.316,.323,.330,.338]),
    (.662, [.227,.236,.242,.248,.255,.261,.268,.274,.281,.287,.294,.300,.307,.313,.320,.327,.335,.344]),
    (.651, [.231,.239,.246,.252,.259,.265,.272,.278,.285,.291,.298,.304,.311,.318,.325,.333]),
    (.640, [.236,.244,.250,.257,.263,.270,.276,.283,.289,.296,.302,.309,.316,.324,.332]),
    (.629, [.240,.249,.256,.263,.271,.279,.286,.294,.301,.309,.317,.326]),
    (.618, [.246,.256,.265,.275,.285,.295,.305,.315,.324]),
    (.607, [.252,.263,.274,.285,.297,.308,.319]),
    (.596, [.258,.271,.288,.302,.316,.333]),
    (.582, [.262,.279,.293,.311,.326,.340]),
    (.568, [.255,.268,.285,.300,.318,.334]),
    (.553, [.263,.281,.296,.313,.329,.345]),
    (.539, [.258,.275,.291,.309,.324]),
    (.524, [.266,.284,.300,.317,.333]),
    (.509, [.260,.278,.295,.312,.328]),
    (.494, [.269,.287,.304,.322]),
    (.479, [.263,.281,.299,.316]),
    (.464, [.272,.291,.309]),
]

# in-between rows of the densest red part
red_body_rows_mid = [
    (.7885, [.234,.241,.250,.259,.266,.275,.283,.292,.299,.308,.316,.325,.333]),
    (.7775, [.229,.238,.246,.255,.263,.271,.279,.288,.296,.304,.313,.321,.330,.339]),
    (.7665, [.233,.242,.250,.258,.266,.275,.283,.292,.300,.309,.317,.326,.334,.343]),
    (.7555, [.230,.238,.246,.255,.263,.272,.280,.289,.297,.305,.314,.322,.331,.339]),
    (.7445, [.233,.241,.250,.258,.267,.275,.283,.292,.300,.309,.317,.326,.334,.342]),
    (.7335, [.229,.238,.246,.255,.263,.271,.280,.288,.297,.305,.314,.322,.330,.339]),
    (.7225, [.233,.242,.250,.259,.267,.276,.284,.292,.301,.309,.318,.326,.335]),
    (.7115, [.229,.238,.246,.255,.263,.272,.280,.288,.297,.305,.314,.322,.331,.339]),
    (.7005, [.233,.241,.250,.258,.267,.275,.284,.292,.300,.309,.317,.326,.334]),
    (.6895, [.230,.238,.246,.255,.263,.272,.280,.289,.297,.305,.314,.322,.331]),
    (.6785, [.234,.242,.251,.259,.268,.276,.285,.293,.301,.310,.318,.327,.335]),
    (.6675, [.231,.239,.248,.256,.265,.273,.281,.290,.298,.307,.315,.324]),
    (.6565, [.235,.244,.252,.261,.269,.277,.286,.294,.303,.311,.320,.329]),
    (.6455, [.240,.248,.257,.265,.274,.282,.291,.299,.307,.316,.324]),
]


def expand_rows(rows):
    return [(x, g) for g, xs in rows for x in xs]


gray_pts = (gray_ceiling + gray_left_mid + gray_upper_left + gray_top_mid + gray_right
            + gray_low_left + gray_low_mid + expand_rows(gray_body_rows) + expand_rows(gray_body_rows_mid))
red_pts = (red_low_left + red_low_mid + red_mid_left + red_upper_left + red_left_body
           + red_right + red_top + expand_rows(red_body_rows) + expand_rows(red_body_rows_mid))

df_gray = pd.DataFrame(gray_pts, columns=["delta", "G"])
df_gray["group"] = LABELS[0]
df_red = pd.DataFrame(red_pts, columns=["delta", "G"])
df_red["group"] = LABELS[1]

W, H = 1090, 650
color_scale = alt.Scale(domain=LABELS, range=COLORS)
x_enc = alt.X("delta:Q", scale=alt.Scale(domain=[0, 0.6], nice=False, zero=False),
              axis=alt.Axis(values=x_ticks, format=".1f", title=None, grid=False, tickSize=6,
                            tickColor="black", tickWidth=1.2, domainColor="black", domainWidth=1.2,
                            labelColor="black", labelFontSize=17.5, labelFont=FONT, labelPadding=5,
                            labelFlush=False, labelOverlap=False))
y_enc = alt.Y("G:Q", scale=alt.Scale(domain=[0, 1], nice=False, zero=False),
              axis=alt.Axis(values=y_ticks, format=".1f", title=None, grid=False, tickSize=6,
                            tickColor="black", tickWidth=1.2, domainColor="black", domainWidth=1.2,
                            labelColor="black", labelFontSize=17.5, labelFont=FONT, labelPadding=8,
                            labelFlush=False, labelOverlap=False))
c_enc = alt.Color("group:N", scale=color_scale, legend=None)

gray_layer = alt.Chart(df_gray).mark_circle(size=44, opacity=0.62, clip=True).encode(
    x=x_enc, y=y_enc, color=c_enc)
red_layer = alt.Chart(df_red).mark_circle(size=44, opacity=0.75, stroke="white", strokeWidth=0.7,
                                          clip=True).encode(x=x_enc, y=y_enc, color=c_enc)

one = pd.DataFrame({"k": [0]})

frame = alt.Chart(one).mark_rect(fill="transparent", stroke="black", strokeWidth=1.2).encode(
    x=alt.value(0), x2=alt.value(W), y=alt.value(0), y2=alt.value(H))

title_layer = alt.Chart(one).mark_text(text=TITLE, font=TITLE_FONT, fontSize=23, color="black",
                                       align="center", baseline="alphabetic").encode(
    x=alt.value(W / 2), y=alt.value(-11))

xt1 = alt.Chart(one).mark_text(text=X_TITLE_SYMBOL, font=MATH_FONT, fontSize=19, fontStyle="italic",
                               color="black", align="left", baseline="alphabetic").encode(
    x=alt.value(445), y=alt.value(709))
xt2 = alt.Chart(one).mark_text(text=X_TITLE_SUB, font=MATH_FONT, fontSize=14, fontStyle="italic",
                               color="black", align="left", baseline="alphabetic").encode(
    x=alt.value(456), y=alt.value(713))
xt3 = alt.Chart(one).mark_text(text=X_TITLE_REST, font=FONT, fontSize=20, color="black",
                               align="left", baseline="alphabetic").encode(
    x=alt.value(476), y=alt.value(710))
yt = alt.Chart(one).mark_text(text=Y_TITLE, font=FONT, fontSize=20.5, color="black", angle=270,
                              align="center", baseline="alphabetic").encode(
    x=alt.value(-49), y=alt.value(H / 2))

note_box = alt.Chart(one).mark_rect(fill="white", fillOpacity=0.85, stroke="#c8c8c8", strokeWidth=1.3,
                                    cornerRadius=6).encode(
    x=alt.value(613), x2=alt.value(1076), y=alt.value(5), y2=alt.value(44))
note_text = alt.Chart(one).mark_text(text=NOTE, font=FONT, fontSize=21.5, fontWeight="bold",
                                     color="#262626", align="right", baseline="alphabetic").encode(
    x=alt.value(1067), y=alt.value(32))

legend_box = alt.Chart(one).mark_rect(fill="white", fillOpacity=0.8, stroke="#cccccc", strokeWidth=1.3,
                                      cornerRadius=5).encode(
    x=alt.value(10), x2=alt.value(287), y=alt.value(546), y2=alt.value(639))

legend_layers = []
swatch_top = [556, 585, 614]
label_base = [570, 600, 629]
for lab, top, base in zip(LABELS, swatch_top, label_base):
    d = pd.DataFrame({"group": [lab]})
    legend_layers.append(alt.Chart(d).mark_rect().encode(
        x=alt.value(17), x2=alt.value(58), y=alt.value(top), y2=alt.value(top + 15),
        color=alt.Color("group:N", scale=color_scale, legend=None)))
    legend_layers.append(alt.Chart(d).mark_text(font=FONT, fontSize=19.5, color="#1a1a1a",
                                                align="left", baseline="alphabetic").encode(
        x=alt.value(73), y=alt.value(base), text="group:N"))

chart = alt.layer(gray_layer, red_layer, frame, note_box, note_text, legend_box, *legend_layers,
                  title_layer, xt1, xt2, xt3, yt).properties(
    width=W, height=H,
    autosize=alt.AutoSizeParams(type="none"),
    padding={"left": 74, "top": 36, "right": 20, "bottom": 72},
).configure(background="white", view=alt.ViewConfig(stroke="black", strokeWidth=1.2))

chart.save("out.html", embed_options={"renderer": "svg", "actions": False})
